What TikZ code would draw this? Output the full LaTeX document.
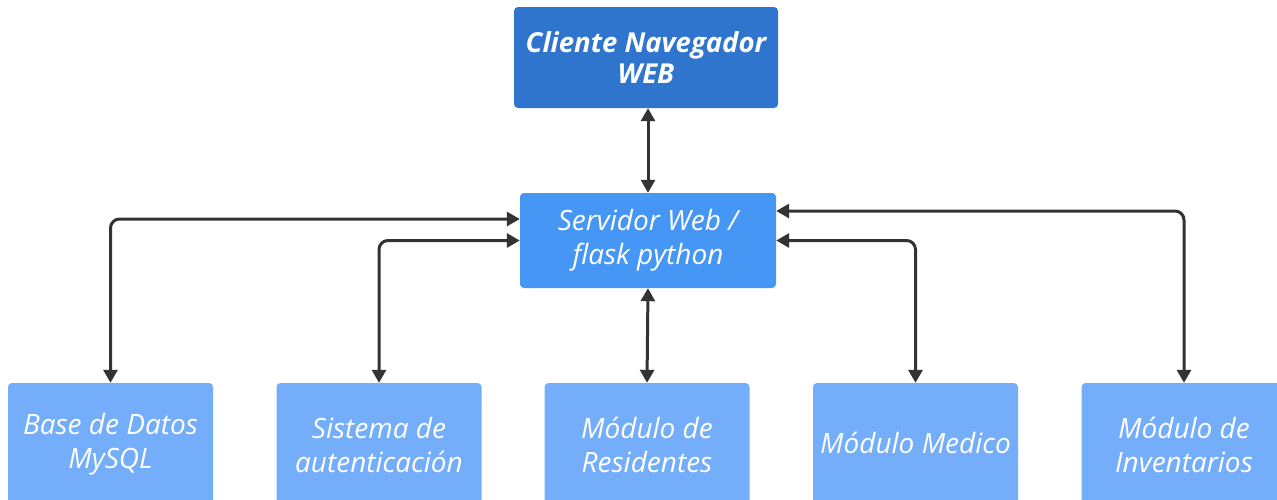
\documentclass[tikz,border=0pt]{standalone}
\usepackage{fontspec}
\setmainfont{Open Sans}
\usetikzlibrary{arrows.meta}
\definecolor{topblue}{RGB}{47,117,205}
\definecolor{srvblue}{RGB}{70,150,246}
\definecolor{modblue}{RGB}{116,174,250}
\definecolor{conncol}{RGB}{51,51,51}
\tikzset{
  box/.style={rectangle, rounded corners=4pt, draw=none, text=white, align=center,
    font=\fontsize{28}{34}\selectfont\itshape, inner sep=0pt},
  topbox/.style={box, fill=topblue, minimum width=264pt, minimum height=101pt,
    font=\fontsize{27.5}{31}\selectfont\bfseries\itshape},
  srvbox/.style={box, fill=srvblue, minimum width=256pt, minimum height=95pt},
  modbox/.style={box, fill=modblue, minimum width=205pt, minimum height=123pt},
  conn/.style={draw=conncol, line width=3pt, rounded corners=9pt,
    {Triangle[width=14pt,length=13pt]}-{Triangle[width=14pt,length=13pt]}}
}
\begin{document}
\begin{tikzpicture}[x=1pt,y=-1pt]
\useasboundingbox (0,0) rectangle (1277,499);
\clip (0,0) rectangle (1277,499);
\node[topbox] (cli) at (646,57.5) {Cliente Navegador\\WEB};
\node[srvbox] (srv) at (648,240.5) {Servidor Web /\\flask python};
\node[modbox] (db) at (110.5,444.5) {Base de Datos\\MySQL};
\node[modbox] (auth) at (379,444.5) {Sistema de\\autenticación};
\node[modbox] (res) at (647,444.5) {Módulo de\\Residentes};
\node[modbox] (med) at (915.5,444.5) {\raisebox{4pt}{Módulo Medico}};
\node[modbox] (inv) at (1184,444.5) {Módulo de\\Inventarios};
\draw[conn] (cli.south -| srv.south) -- (srv.north);
\draw[conn] (srv.south) -- (res.north);
\draw[conn] ([yshift=21.5pt]srv.west) -| (db.north);
\draw[conn] (srv.west) -| (auth.north);
\draw[conn] ([yshift=29.5pt]srv.east) -| (inv.north);
\draw[conn] (srv.east) -| (med.north);
\end{tikzpicture}
\end{document}
